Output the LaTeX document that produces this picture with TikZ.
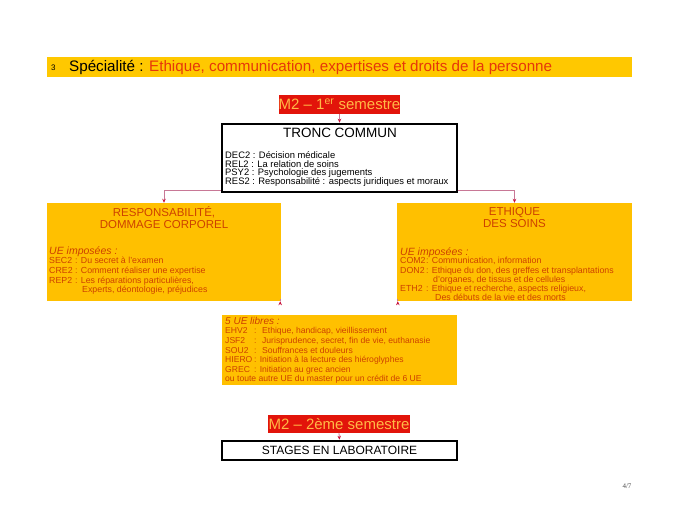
\documentclass[tikz,border=0pt]{standalone}
\usepackage{fontspec}
\setmainfont{Liberation Sans}
\newfontfamily\pagefont{Liberation Serif}
\usepackage{xcolor}
\usetikzlibrary{calc, arrows.meta, positioning}

\definecolor{ueyellow}{RGB}{255,192,0}
\definecolor{baryellow}{RGB}{255,200,0}
\definecolor{uered}{RGB}{226,20,10}
\definecolor{uetext}{RGB}{205,65,0}
\definecolor{titlered}{RGB}{230,55,10}
\definecolor{semtext}{RGB}{255,185,70}
\definecolor{linkpink}{RGB}{200,120,150}
\definecolor{tipred}{RGB}{200,20,60}

% code column of the unit lists
\newcommand{\uecode}[2]{\makebox[#1][l]{#2}}

\tikzset{
  semestre/.style={fill=uered, text=semtext, inner sep=0pt, font=\fontsize{15}{15}\selectfont},
  blackbox/.style={draw=black, line width=2.6pt, fill=white, inner sep=0pt},
  uebox/.style={fill=ueyellow, inner sep=0pt},
  ueline/.style={text=uetext, anchor=base west, inner sep=0pt, font=\fontsize{8.8}{9}\selectfont},
  uetitle/.style={text=uetext, anchor=base west, inner sep=0pt, font=\fontsize{10.5}{11}\selectfont\itshape},
  uehead/.style={text=uetext, inner sep=0pt, align=center, font=\fontsize{11.5}{12}\selectfont},
  link/.style={draw=linkpink, line width=0.8pt, -{Stealth[length=4pt, width=3.5pt, color=tipred]}},
}

\begin{document}
\begin{tikzpicture}[x=1pt, y=-1pt]
  \useasboundingbox (0,0) rectangle (689,517);
  % Title bar
  \fill[baryellow] (47,57) rectangle (632,77);
  \node[anchor=west, inner sep=0pt, font=\fontsize{8}{8}\selectfont] (num) at (51,68) {3};
  \node[anchor=west, inner sep=0pt, font=\fontsize{15.2}{16}\selectfont] (title) at (69,67)
    {Spécialité : \textcolor{titlered}{Ethique, communication, expertises et droits de la personne}};

  % First semester
  \node[semestre, minimum width=121pt, minimum height=19pt] (sem1) at (339.5,104.5)
    {M2 -- 1\textsuperscript{er} semestre};
  \node[blackbox, minimum width=235pt, minimum height=68pt] (tronc) at (339.5,158) {};
  \node[inner sep=0pt, font=\fontsize{13.5}{14}\selectfont] (troncT) at (340,133) {TRONC COMMUN};
  \foreach \y/\txt [count=\i] in {158.5/{DEC2 : Décision médicale},
      167/{REL2 : La relation de soins},
      175.5/{PSY2 : Psychologie des jugements},
      184/{RES2 : Responsabilité : aspects juridiques et moraux}}
    \node[ueline, text=black, font=\fontsize{9.4}{9}\selectfont] (tronc\i) at (225,\y) {\txt};

  % Two options
  \node[uebox, minimum width=234pt, minimum height=98pt] (resp) at (164,252) {};
  \node[uehead] (respT) at (164,218) {RESPONSABILITÉ,\\DOMMAGE CORPOREL};
  \node[uetitle] (respU) at (49,254) {UE imposées :};
  \foreach \y/\code/\txt [count=\i] in {263.5/SEC2/{: Du secret à l'examen},
      273/CRE2/{: Comment réaliser une expertise},
      283/REP2/{: Les réparations particulières,},
      292.5/{}/{\hspace{7pt}Experts, déontologie, préjudices}}
    \node[ueline] (resp\i) at (49,\y) {\uecode{26pt}{\code}\txt};

  \node[uebox, minimum width=235pt, minimum height=98pt] (ethique) at (514.5,252) {};
  \node[uehead] (ethiqueT) at (514.5,218) {ETHIQUE\\DES SOINS};
  \node[uetitle] (ethiqueU) at (400,255) {UE imposées :};
  \foreach \y/\code/\txt [count=\i] in {263.5/COM2/{: Communication, information},
      273/DON2/{: Ethique du don, des greffes et transplantations},
      282/{}/{\hspace{7pt}d'organes, de tissus et de cellules},
      291.5/ETH2/{: Ethique et recherche, aspects religieux,},
      300.5/{}/{\hspace{9pt}Des débuts de la vie et des morts}}
    \node[ueline] (ethique\i) at (400,\y) {\uecode{26pt}{\code}\txt};

  % Free units
  \node[uebox, minimum width=235pt, minimum height=70pt] (libres) at (339.5,350) {};
  \node[uetitle, font=\fontsize{10}{10}\selectfont\itshape] (libresU) at (225,324) {5 UE libres :};
  \foreach \y/\code/\txt [count=\i] in {333.5/EHV2/{: \ Ethique, handicap, vieillissement},
      343/JSF2/{: \ Jurisprudence, secret, fin de vie, euthanasie},
      353/SOU2/{: \ Souffrances et douleurs},
      362.5/HIERO/{: Initiation à la lecture des hiéroglyphes},
      372/GREC/{: Initiation au grec ancien}}
    \node[ueline, font=\fontsize{8.6}{9}\selectfont] (libres\i) at (225,\y) {\uecode{29pt}{\code}\txt};
  \node[ueline, font=\fontsize{8.6}{9}\selectfont] (libresA) at (225,381.5)
    {ou toute autre UE du master pour un crédit de 6 UE};

  % Second semester
  \node[semestre, minimum width=142pt, minimum height=18pt] (sem2) at (339,424)
    {M2 -- 2ème semestre};
  \node[blackbox, minimum width=235pt, minimum height=19pt,
        font=\fontsize{12}{12}\selectfont] (stages) at (339.5,450.5) {STAGES EN LABORATOIRE};

  % Connectors
  \draw[link] (sem1.south) -- (tronc.north);
  \draw[link] ($(tronc.south west)+(0,-3)$) -| (resp.north);
  \draw[link] ($(tronc.south east)+(0,-3)$) -| (ethique.north);
  \draw[link] ($(resp.south east)+(-1,0)$) -- ($(resp.south east)+(-1,0)$ |- libres.north);
  \draw[link] ($(ethique.south west)+(1,0)$) -- ($(ethique.south west)+(1,0)$ |- libres.north);
  \draw[link] (sem2.south) -- (stages.north);

  % Page number
  \node[inner sep=0pt, text=black!70, font=\pagefont\fontsize{7}{7}\selectfont] (page) at (627,486) {4/7};
\end{tikzpicture}
\end{document}
